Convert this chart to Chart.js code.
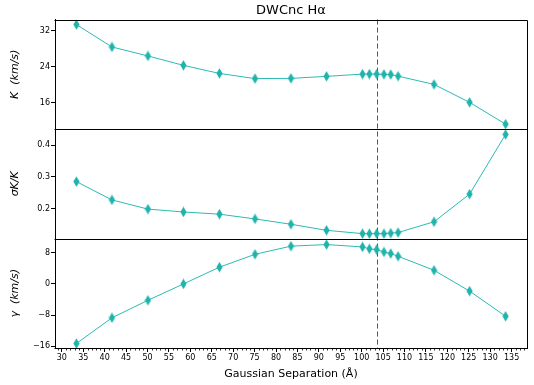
<!DOCTYPE html>
<html><head><meta charset="utf-8">
<script src="https://cdn.jsdelivr.net/npm/chart.js@4/dist/chart.umd.min.js"></script>
<style>html,body{margin:0;padding:0;background:#fff}</style>
</head><body>
<canvas id="c" width="534" height="385"></canvas>
<script>
// ---- data ----
const separation = [33.4, 41.7, 50.1, 58.4, 66.8, 75.1, 83.5, 91.8, 100.2, 101.8, 103.5, 105.2, 106.8, 108.5, 116.9, 125.2, 133.6];
const kValues = [33.4, 28.4, 26.4, 24.3, 22.5, 21.35, 21.4, 21.85, 22.35, 22.35, 22.35, 22.3, 22.25, 21.9, 20.05, 16.05, 11.2];
const sigmaKOverK = [0.285, 0.227, 0.198, 0.189, 0.182, 0.167, 0.150, 0.131, 0.1205, 0.1205, 0.1205, 0.1205, 0.122, 0.124, 0.158, 0.2455, 0.434];
const gammaValues = [-15.3, -8.7, -4.2, 0.0, 4.3, 7.6, 9.7, 10.1, 9.5, 9.0, 8.8, 8.2, 7.8, 7.1, 3.5, -1.85, -8.3];
const markedSeparation = 103.5;
const xRange = [28.4, 138.6];
const kRange = [10.1, 34.5];
const sigmaRange = [0.105, 0.451];
const gammaRange = [-16.45, 11.65];
const xTickStep = 5, kTickStep = 8, sigmaTickStep = 0.1, gammaTickStep = 8;
const titleText = 'DWCnc H\u03b1';
const xTitle = 'Gaussian Separation (\u00c5)';
const kTitle = 'K  (km/s)';
const sigmaTitle = '\u03c3K/K';
const gammaTitle = '\u03b3  (km/s)';

// ---- style ----
const FONT = 'DejaVu Sans';
Chart.defaults.font.family = FONT;
Chart.defaults.color = '#000';
const LINE_COLOR = '#2bbab3';
const MARK_COLOR = '#1fb3ac';

function thinDiamond() {
  const c = document.createElement('canvas');
  c.width = 7; c.height = 11;
  const g = c.getContext('2d');
  g.fillStyle = MARK_COLOR;
  g.beginPath();
  g.moveTo(3.5, 0.3); g.lineTo(6.6, 5.5); g.lineTo(3.5, 10.7); g.lineTo(0.4, 5.5); g.closePath();
  g.fill();
  return c;
}
const marker = thinDiamond();

function series(values, axis) {
  return {
    data: separation.map((x, i) => ({x, y: values[i]})),
    xAxisID: 'x', yAxisID: axis,
    borderColor: LINE_COLOR, borderWidth: 1,
    pointStyle: marker, pointRadius: 5, pointHoverRadius: 5,
    tension: 0, clip: false, fill: false
  };
}

const minus = v => String(v).replace('-', '\u2212');

function yScale(range, step, title, fmt) {
  return {
    type: 'linear', position: 'left', stack: 'panels', stackWeight: 1,
    min: range[0], max: range[1],
    ticks: {stepSize: step, includeBounds: false, font: {size: 8}, color: '#000', padding: 1,
            callback: v => minus(fmt(v))},
    grid: {drawOnChartArea: false, tickLength: 4, color: '#000', tickColor: '#000'},
    border: {color: '#000', width: 1},
    title: {display: true, text: title, font: {size: 11, style: 'italic'}, color: '#000', padding: {top: 9, bottom: 0}},
    afterFit: s => { s.width = 55; }
  };
}

const panelFrames = {
  id: 'panelFrames',
  beforeDatasetsDraw(chart) {
    const {ctx, chartArea, scales} = chart;
    const xp = Math.round(scales.x.getPixelForValue(markedSeparation)) + 0.5;
    ctx.save();
    ctx.strokeStyle = '#1f6794'; ctx.lineWidth = 1; ctx.setLineDash([5, 3]);
    ctx.beginPath(); ctx.moveTo(xp, chartArea.top); ctx.lineTo(xp, chartArea.bottom); ctx.stroke();
    ctx.restore();
  },
  afterDraw(chart) {
    const {ctx, chartArea, scales} = chart;
    ctx.save();
    ctx.strokeStyle = '#000'; ctx.lineWidth = 1;
    const L = Math.round(chartArea.left) - 0.5, R = Math.round(chartArea.right) + 0.5;
    const ys = new Set();
    for (const id of ['yK', 'ySig', 'yG']) {
      ys.add(Math.round(scales[id].top));
      ys.add(Math.round(scales[id].bottom));
    }
    ctx.beginPath();
    for (const y of ys) { ctx.moveTo(L, y + 0.5); ctx.lineTo(R, y + 0.5); }
    ctx.moveTo(R, Math.round(chartArea.top) + 0.5); ctx.lineTo(R, Math.round(chartArea.bottom) + 0.5);
    ctx.stroke();
    // minor x ticks
    const x = scales.x;
    ctx.lineWidth = 0.8;
    ctx.beginPath();
    for (let v = Math.ceil(x.min); v <= x.max; v++) {
      if (v % xTickStep === 0) continue;
      const p = Math.round(x.getPixelForValue(v)) + 0.5;
      ctx.moveTo(p, chartArea.bottom); ctx.lineTo(p, chartArea.bottom + 2.5);
    }
    ctx.stroke();
    ctx.restore();
  }
};

new Chart(document.getElementById('c'), {
  type: 'line',
  data: {datasets: [series(kValues, 'yK'), series(sigmaKOverK, 'ySig'), series(gammaValues, 'yG')]},
  options: {
    responsive: false, animation: false, devicePixelRatio: 1,
    layout: {padding: {left: 0, right: 7, top: 0, bottom: 0}},
    plugins: {
      legend: {display: false}, tooltip: {enabled: false},
      title: {display: true, text: titleText, fullSize: false, color: '#000',
              font: {size: 13, weight: 'normal'}, padding: {top: 3, bottom: 1}}
    },
    scales: {
      x: {
        type: 'linear', position: 'bottom', min: xRange[0], max: xRange[1],
        ticks: {stepSize: xTickStep, includeBounds: false, font: {size: 8}, color: '#000', padding: 1,
                autoSkip: false, maxRotation: 0},
        grid: {drawOnChartArea: false, tickLength: 4, color: '#000', tickColor: '#000'},
        border: {color: '#000', width: 1},
        title: {display: true, text: xTitle, font: {size: 11}, color: '#000', padding: {top: 0, bottom: 4}},
        afterFit: s => { s.height = 37; }
      },
      yG: yScale(gammaRange, gammaTickStep, gammaTitle, v => v.toFixed(0)),
      ySig: yScale(sigmaRange, sigmaTickStep, sigmaTitle, v => v.toFixed(1)),
      yK: yScale(kRange, kTickStep, kTitle, v => v.toFixed(0))
    }
  },
  plugins: [panelFrames]
});
</script>
</body></html>
